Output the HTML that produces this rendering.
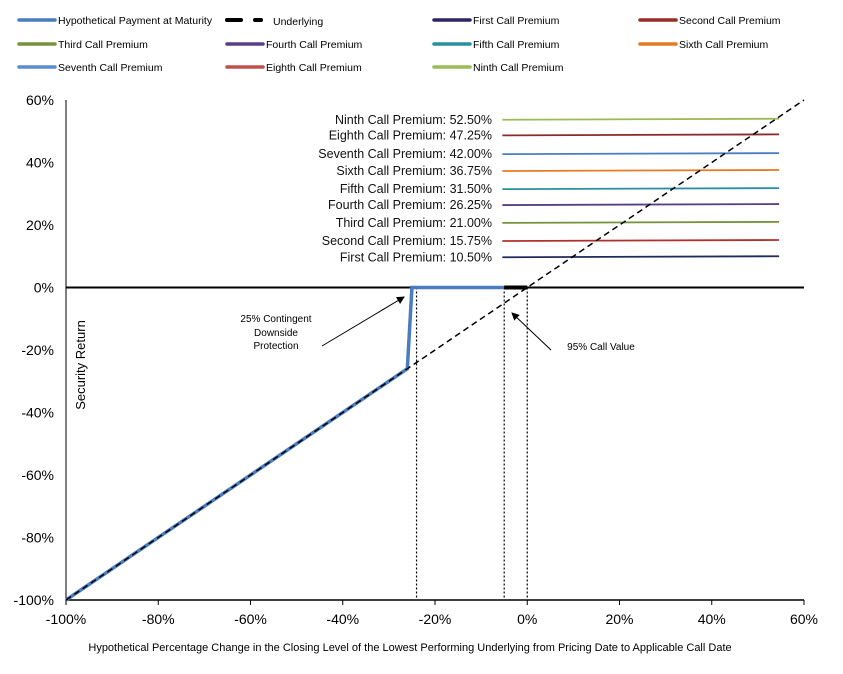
<!DOCTYPE html>
<html><head><meta charset="utf-8"><style>
body{margin:0;background:#fff;}
svg{display:block;font-family:"Liberation Sans",sans-serif;}
</style></head><body>
<svg id="c" width="843" height="674" viewBox="0 0 843 674"></svg>
<script>
const xTicks=[-100,-80,-60,-40,-20,0,20,40,60];
const yTicks=[-100,-80,-60,-40,-20,0,20,40,60];
const premiumNames=["First","Second","Third","Fourth","Fifth","Sixth","Seventh","Eighth","Ninth"];
const premiumLabels=["10.50%","15.75%","21.00%","26.25%","31.50%","36.75%","42.00%","47.25%","52.50%"];
const premiumValues=[10,15.2,21,26.7,31.8,37.6,43,49,54];
const premiumColors=["#1f2a5c","#b2302c","#76923c","#5a3f86","#2a8fa0","#e67b25","#4a7dc0","#8b2a2a","#9bbb59"];
const premiumRange=[-5.4,54.6];
const paymentX=[-100,-26,-25,-5];
const paymentY=[-100,-26,0,0];
const underlyingRange=[-100,60];
const callMarkers=[-24,-5,0];
const svg=document.getElementById('c');
const NS='http://www.w3.org/2000/svg';
const X0=66,X1=804,Y0=600,Y1=100;
const xs=v=>X0+(v+100)/160*(X1-X0);
const ys=v=>Y0-(v+100)/160*(Y0-Y1);
function mk(t,a,p){const e=document.createElementNS(NS,t);for(const k in a)e.setAttribute(k,a[k]);(p||svg).appendChild(e);return e;}
// axes
let e=mk('line',{x1:X0,y1:Y1,x2:X0,y2:Y0,stroke:'#000','stroke-width':1});


e=mk('line',{x1:X0,y1:Y0,x2:X1,y2:Y0,stroke:'#000','stroke-width':1.5});


e=mk('line',{x1:X0,y1:ys(0),x2:X1,y2:ys(0),stroke:'#000','stroke-width':2});


xTicks.forEach(v=>{
  mk('line',{x1:xs(v),y1:Y0,x2:xs(v),y2:Y0+5,stroke:'#000'});
  const t=mk('text',{x:xs(v),y:Y0+24,'text-anchor':'middle','font-size':14});
  t.textContent=v+'%';
  
  
});
yTicks.forEach(v=>{
  const t=mk('text',{x:X0-12,y:ys(v)+5,'text-anchor':'end','font-size':14});
  t.textContent=v+'%';
  
  
});
// premium lines
premiumValues.forEach((v,i)=>{
  const l=mk('line',{x1:xs(premiumRange[0]),y1:ys(v)+1,x2:xs(premiumRange[1]),y2:ys(v),stroke:premiumColors[i],'stroke-width':1.8});
  
  
  const t=mk('text',{x:492,y:ys(v)+5,'text-anchor':'end','font-size':12.5,fill:'#111'});
  t.textContent=premiumNames[i]+' Call Premium: '+premiumLabels[i];
  
  
});
// dotted markers
callMarkers.forEach(v=>{
  const l=mk('line',{x1:xs(v),y1:ys(0),x2:xs(v),y2:Y0,stroke:'#000','stroke-width':1.2,'stroke-dasharray':'2,2'});
  
  
});
// payment
e=mk('polyline',{points:paymentX.map((x,i)=>xs(x)+','+ys(paymentY[i])).join(' '),fill:'none',stroke:'#4a7dc0','stroke-width':3.5});


e=mk('line',{x1:xs(-5),y1:ys(0),x2:xs(0),y2:ys(0),stroke:'#000','stroke-width':4});


// underlying
e=mk('line',{x1:xs(underlyingRange[0]),y1:ys(underlyingRange[0]),x2:xs(underlyingRange[1]),y2:ys(underlyingRange[1]),stroke:'#000','stroke-width':1.5,'stroke-dasharray':'6,4'});


// annotations
const defs=mk('defs',{});
const m=mk('marker',{id:'ah',markerWidth:8,markerHeight:8,refX:7,refY:4,orient:'auto'},defs);
mk('path',{d:'M0,0 L8,4 L0,8 z',fill:'#000'},m);
e=mk('line',{x1:322,y1:346,x2:404,y2:297,stroke:'#000','marker-end':'url(#ah)'});


e=mk('line',{x1:551,y1:350,x2:512,y2:313,stroke:'#000','marker-end':'url(#ah)'});


[['25% Contingent',322],['Downside',336],['Protection',349]].forEach(([s,y])=>{
  const t=mk('text',{x:276,y:y,'text-anchor':'middle','font-size':10});t.textContent=s;
  
  
});
e=mk('text',{x:601,y:350,'text-anchor':'middle','font-size':10});e.textContent='95% Call Value';


e=mk('text',{x:0,y:0,'font-size':13,'text-anchor':'middle',transform:'translate(85,365) rotate(-90)'});e.textContent='Security Return';


e=mk('text',{x:410,y:651,'font-size':11,'text-anchor':'middle'});e.textContent='Hypothetical  Percentage Change in the Closing Level of the Lowest Performing Underlying  from Pricing Date to Applicable  Call Date';


// legend
const legendItems=[["Hypothetical Payment at Maturity","#4a7dc0",19,20],["Underlying","dash",227,20],["First Call Premium","#2e2460",434,20],["Second Call Premium","#9a2a26",640,20],
["Third Call Premium","#76923c",19,44],["Fourth Call Premium","#5a3f86",227,44],["Fifth Call Premium","#2a8fa0",434,44],["Sixth Call Premium","#e67b25",640,44],
["Seventh Call Premium","#5b8bd0",19,67],["Eighth Call Premium","#c0504d",227,67],["Ninth Call Premium","#9bbb59",434,67]];
legendItems.forEach(([n,c,x,y])=>{
  const g=mk('g',{});
  
  
  if(c==='dash'){
    mk('line',{x1:x,y1:y,x2:x+14,y2:y,stroke:'#000','stroke-width':4,'stroke-linecap':'round'},g);
    mk('line',{x1:x+28,y1:y,x2:x+34,y2:y,stroke:'#000','stroke-width':4,'stroke-linecap':'round'},g);
    const t=mk('text',{x:x+46,y:y+5,'font-size':10.5},g);t.textContent=n;
  }else{
    mk('line',{x1:x,y1:y,x2:x+36,y2:y,stroke:c,'stroke-width':3.5,'stroke-linecap':'round'},g);
    const t=mk('text',{x:x+39,y:y+4,'font-size':10.5},g);t.textContent=n;
  }
});
</script>
</body></html>
